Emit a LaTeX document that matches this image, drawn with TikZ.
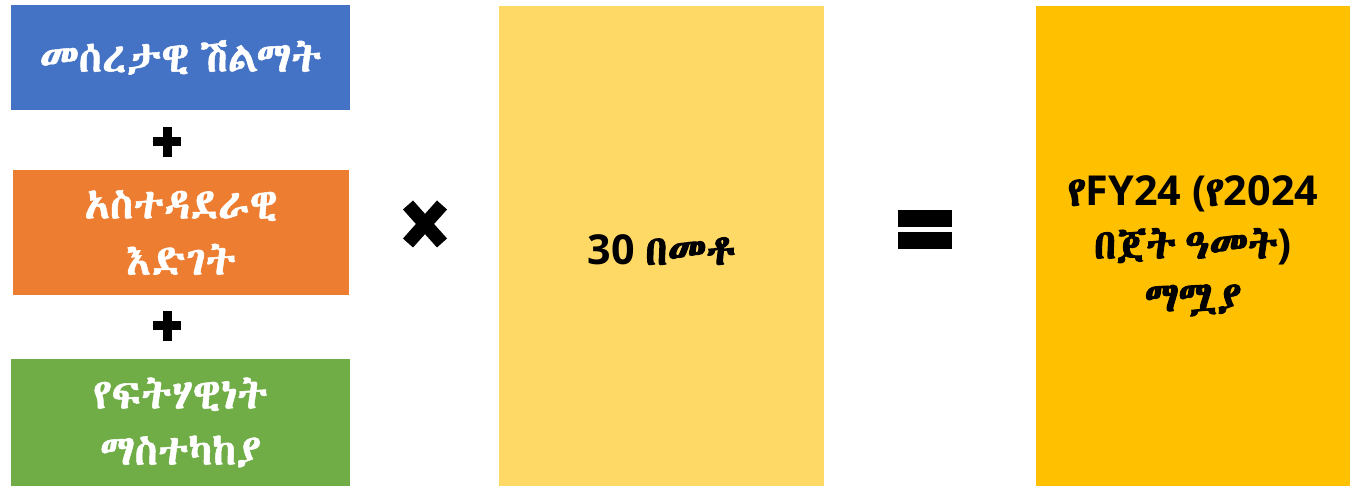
\documentclass[tikz,border=0pt]{standalone}
\usepackage{fontspec}
\setmainfont{Open Sans}
\newfontfamily\eth{Abyssinica SIL}[FakeBold=1.2,WordSpace=0.6]
\newfontfamily\ethb{Abyssinica SIL}[FakeBold=2.5,WordSpace=0.7]
\definecolor{cblue}{HTML}{4472C4}
\definecolor{corange}{HTML}{ED7D31}
\definecolor{cgreen}{HTML}{70AD47}
\definecolor{cyellow}{HTML}{FFD966}
\definecolor{cgold}{HTML}{FFC000}
\tikzset{
  box/.style={draw=none, inner sep=0pt, align=center, font=\fontsize{24}{32}\selectfont},
  wbox/.style={box, text=white},
  kbox/.style={box, text=black, font=\bfseries\fontsize{23.5}{30}\selectfont},
  sym/.style={fill=black, draw=none}
}
\begin{document}
\begin{tikzpicture}[x=0.02cm,y=0.02cm]
\useasboundingbox (0,0) rectangle (1350,486);
\fill[cblue] (11,376) rectangle (350,481);
\node[wbox] (base) at (180.5,428.5) {\eth መሰረታዊ ሽልማት};
\fill[corange] (13,191) rectangle (349,316);
\node[wbox] (admin) at (181,253.5) {\eth አስተዳደራዊ\\\eth እድገት};
\fill[cgreen] (11,0) rectangle (350,127);
\node[wbox] (equity) at (180.5,63.5) {\eth የፍትሃዊነት\\\eth ማስተካከያ};
\fill[cyellow] (499,0) rectangle (824,480);
\node[kbox] (pct) at (661.5,236) {30 {\ethb በመቶ}};
\fill[cgold] (1036,0) rectangle (1350,480);
\node[kbox] (fy) at (1193,240) {{\ethb የ}FY24 ({\ethb የ}2024\\{\ethb በጀት ዓመት})\\{\ethb ማሟያ}};
\foreach \cy in {344,160}{
  \fill[sym] (163,\cy-15) rectangle (172,\cy+15);
  \fill[sym] (153,\cy-4.5) rectangle (181,\cy+4.5);
}
\draw[line width=0.27cm] (408,281) -- (442,243);
\draw[line width=0.27cm] (408,243) -- (442,281);
\fill[sym] (898,259) rectangle (952,276);
\fill[sym] (898,237) rectangle (952,254);
\end{tikzpicture}
\end{document}
